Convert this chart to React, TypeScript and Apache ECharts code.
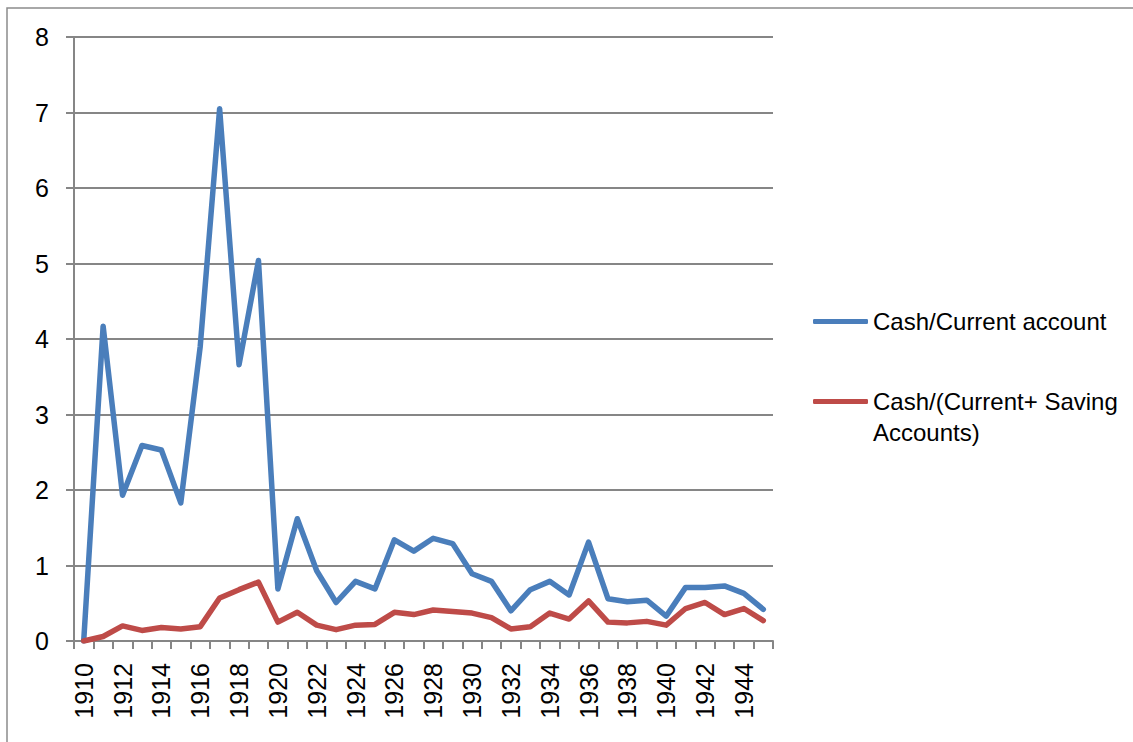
import React, { useEffect, useRef } from "react";
import * as echarts from "echarts";

const years: string[] = [
  "1910","1911","1912","1913","1914","1915","1916","1917","1918","1919",
  "1920","1921","1922","1923","1924","1925","1926","1927","1928","1929",
  "1930","1931","1932","1933","1934","1935","1936","1937","1938","1939",
  "1940","1941","1942","1943","1944","1945",
];

const cashCurrent: number[] = [
  0, 4.17, 1.93, 2.59, 2.53, 1.83, 3.9, 7.05, 3.66, 5.04,
  0.69, 1.62, 0.93, 0.51, 0.79, 0.69, 1.34, 1.19, 1.36, 1.29,
  0.89, 0.79, 0.4, 0.68, 0.79, 0.61, 1.31, 0.56, 0.52, 0.54,
  0.33, 0.71, 0.71, 0.73, 0.63, 0.42,
];

const cashCurrentSaving: number[] = [
  0, 0.06, 0.2, 0.14, 0.18, 0.16, 0.19, 0.57, 0.68, 0.78,
  0.25, 0.38, 0.21, 0.15, 0.21, 0.22, 0.38, 0.35, 0.41, 0.39,
  0.37, 0.31, 0.16, 0.19, 0.37, 0.29, 0.53, 0.25, 0.24, 0.26,
  0.21, 0.43, 0.51, 0.35, 0.43, 0.27,
];

const seriesNames: string[] = [
  "Cash/Current account",
  "Cash/(Current+ Saving\nAccounts)",
];

const FONT = "'Liberation Sans', Arial, sans-serif";
const AXIS_GRAY = "#868686";

export default function App() {
  const ref = useRef<HTMLDivElement>(null);

  useEffect(() => {
    if (!ref.current) return;
    const chart = echarts.init(ref.current, undefined, { renderer: "svg" });
    const legendText = {
      fontFamily: FONT,
      fontSize: 24,
      color: "#000",
      lineHeight: 31,
    };
    chart.setOption({
      animation: false,
      backgroundColor: "#ffffff",
      grid: { left: 74, right: 360, top: 37, bottom: 101, containLabel: false },
      graphic: [
        {
          type: "rect",
          shape: { x: 7, y: 8, width: 1200, height: 900 },
          style: { fill: "none", stroke: "#8c8c8c", lineWidth: 1.5 },
          silent: true,
          z: -10,
        },
      ],
      legend: [
        {
          orient: "vertical",
          left: 813,
          top: 306,
          itemWidth: 55,
          itemHeight: 5,
          icon: "roundRect",
          data: [{ name: seriesNames[0] }],
          textStyle: legendText,
          padding: 0,
        },
        {
          orient: "vertical",
          left: 813,
          top: 355,
          itemWidth: 55,
          itemHeight: 5,
          icon: "roundRect",
          data: [{ name: seriesNames[1] }],
          formatter: (name: string) => "\n" + name,
          textStyle: legendText,
          padding: 0,
        },
      ],
      xAxis: {
        type: "category",
        data: years,
        boundaryGap: true,
        axisLine: { show: true, lineStyle: { color: AXIS_GRAY, width: 2 } },
        axisTick: {
          show: true,
          length: 8,
          interval: 0,
          alignWithLabel: false,
          lineStyle: { color: AXIS_GRAY, width: 2 },
        },
        axisLabel: {
          interval: 1,
          rotate: 90,
          margin: 22,
          fontFamily: FONT,
          fontSize: 25,
          color: "#000",
        },
        splitLine: { show: false },
      },
      yAxis: {
        type: "value",
        min: 0,
        max: 8,
        interval: 1,
        axisLine: { show: true, lineStyle: { color: AXIS_GRAY, width: 2 } },
        axisTick: { show: true, length: 8, lineStyle: { color: AXIS_GRAY, width: 2 } },
        axisLabel: {
          margin: 25,
          fontFamily: FONT,
          fontSize: 25,
          color: "#000",
        },
        splitLine: { show: true, lineStyle: { color: AXIS_GRAY, width: 2 } },
      },
      series: [
        {
          name: seriesNames[0],
          type: "line",
          data: cashCurrent,
          showSymbol: false,
          symbol: "none",
          color: "#4A7EBB",
          lineStyle: { width: 5.5, color: "#4A7EBB", join: "round", cap: "round" },
          z: 3,
        },
        {
          name: seriesNames[1],
          type: "line",
          data: cashCurrentSaving,
          showSymbol: false,
          symbol: "none",
          color: "#BE4B48",
          lineStyle: { width: 5.5, color: "#BE4B48", join: "round", cap: "round" },
          z: 3,
        },
      ],
    });
    return () => chart.dispose();
  }, []);

  return (
    <div
      ref={ref}
      style={{ position: "fixed", left: 0, top: 0, width: 1133, height: 742 }}
    />
  );
}
